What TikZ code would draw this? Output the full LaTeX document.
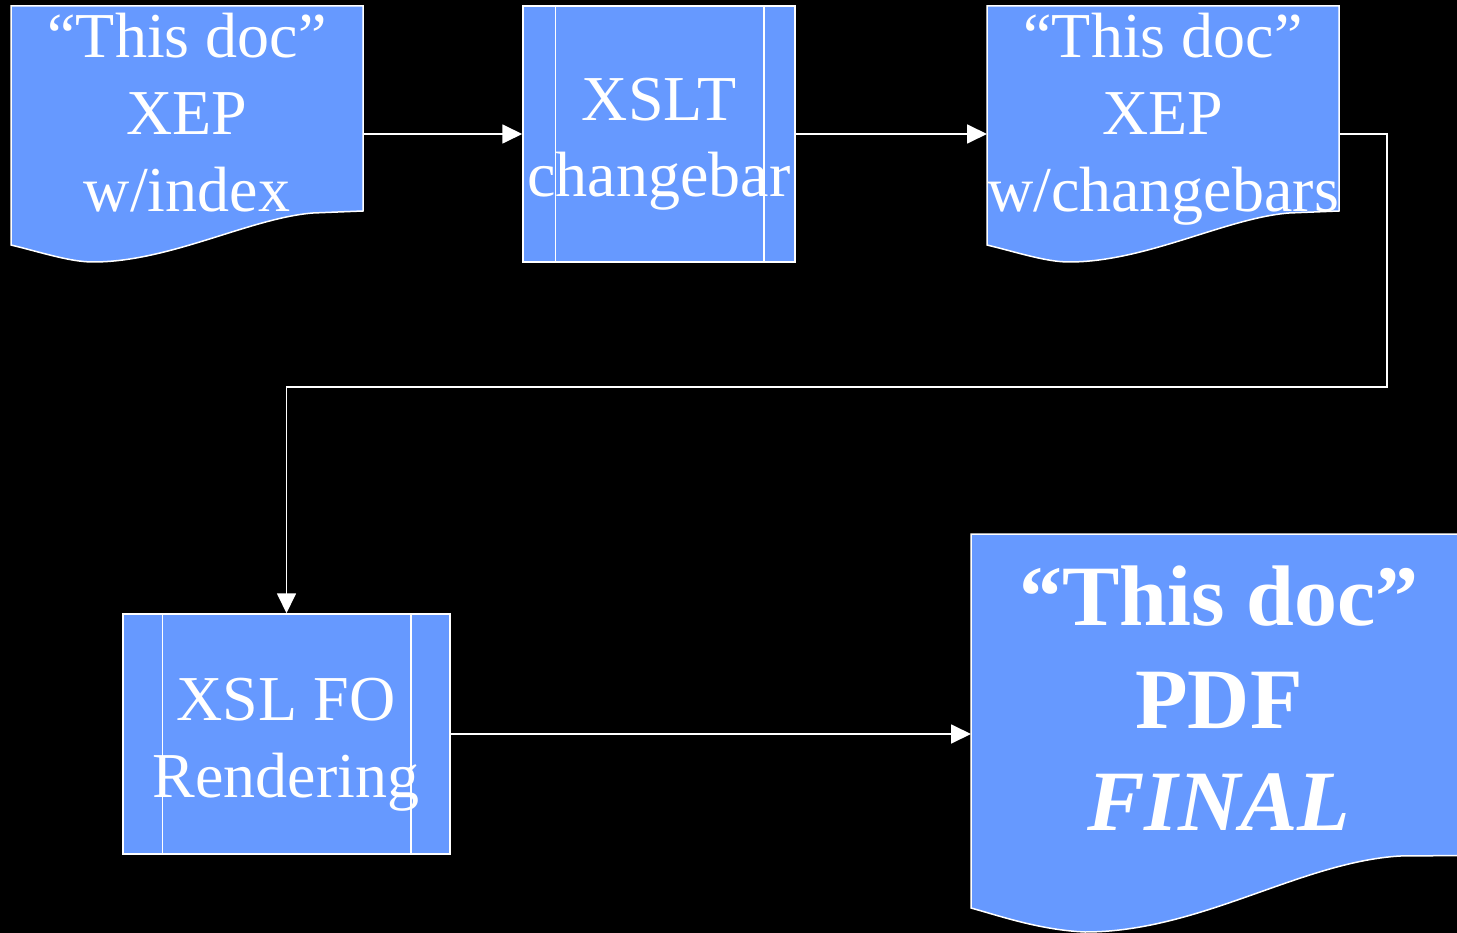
\documentclass[tikz,border=0pt]{standalone}
\usepackage{fontspec}
\setmainfont{Liberation Serif}
\usetikzlibrary{arrows.meta}
\definecolor{docblue}{HTML}{6699FF}
\tikzset{
 shapeline/.style={draw=white, line width=1.5pt, fill=docblue},
 procbox/.style={shapeline, rectangle, inner sep=0pt},
 conn/.style={draw=white, line width=1.8pt, -{Triangle[length=20pt,width=19pt]}},
 txt/.style={text=white, font=\fontsize{64}{77}\selectfont, anchor=base, inner sep=0pt},
 bigtxt/.style={text=white, font=\bfseries\fontsize{86}{103}\selectfont, anchor=base, inner sep=0pt}
}
\begin{document}
\begin{tikzpicture}[x=1pt,y=-1pt]
\useasboundingbox (0,0) rectangle (1457,933);
\fill[black] (0,0) rectangle (1457,933);
\begin{scope}
\clip (0,0) rectangle (1457,933);
% document 1
\path[shapeline] (11,6) -- (363,6) -- (363,211) -- (313,213)
  .. controls (250,218) and (170,262) .. (93,262)
  .. controls (70,262) and (40,252) .. (11,245) -- cycle;
% document 2
\begin{scope}[shift={(976,0)}]
\path[shapeline] (11,6) -- (363,6) -- (363,211) -- (313,213)
  .. controls (250,218) and (170,262) .. (93,262)
  .. controls (70,262) and (40,252) .. (11,245) -- cycle;
\end{scope}
% final document
\path[shapeline] (971,534) -- (1530,534) -- (1530,855) -- (1400,856)
  .. controls (1300,862) and (1200,932) .. (1085,932)
  .. controls (1040,930) and (1000,916) .. (971,908) -- cycle;
\end{scope}
% process boxes
\node[procbox, minimum width=272pt, minimum height=256pt] (xslt) at (659,134) {};
\draw[white, line width=1.5pt] ([xshift=33pt]xslt.north west) -- ([xshift=33pt]xslt.south west);
\draw[white, line width=1.5pt] ([xshift=-32pt]xslt.north east) -- ([xshift=-32pt]xslt.south east);
\node[procbox, minimum width=327pt, minimum height=240pt] (xslfo) at (286.5,734) {};
\draw[white, line width=1.5pt] ([xshift=40pt]xslfo.north west) -- ([xshift=40pt]xslfo.south west);
\draw[white, line width=1.5pt] ([xshift=-40pt]xslfo.north east) -- ([xshift=-40pt]xslfo.south east);
% anchor coordinates of the documents
\coordinate (d1r) at (363,134);
\coordinate (d2l) at (987,134);
\coordinate (d2r) at (1339,134);
\coordinate (bend) at (1387,387);
\coordinate (finl) at (971,734);
% connectors
\draw[conn] (d1r) -- (xslt.west);
\draw[conn] (xslt.east) -- (d2l);
\draw[conn] (d2r) -| (bend) -| (xslfo.north);
\draw[conn] (xslfo.east) -- (finl);
% texts
\node[txt] (d1a) at (187,58) {“This doc”};
\node[txt] (d1b) at (187,135) {XEP};
\node[txt] (d1c) at (187,212) {w/index};
\node[txt] (d2a) at (1163,58) {“This doc”};
\node[txt] (d2b) at (1163,135) {XEP};
\node[txt] (d2c) at (1163,212) {w/changebars};
\node[txt] (xa) at (659,121) {XSLT};
\node[txt] (xb) at (659,197) {changebar};
\node[txt] (fa) at (286,720) {XSL FO};
\node[txt] (fb) at (286,797) {Rendering};
\node[bigtxt] (ga) at (1219,625) {“This doc”};
\node[bigtxt] (gb) at (1219,728) {PDF};
\node[bigtxt] (gc) at (1219,830) {\itshape FINAL};
\end{tikzpicture}
\end{document}
